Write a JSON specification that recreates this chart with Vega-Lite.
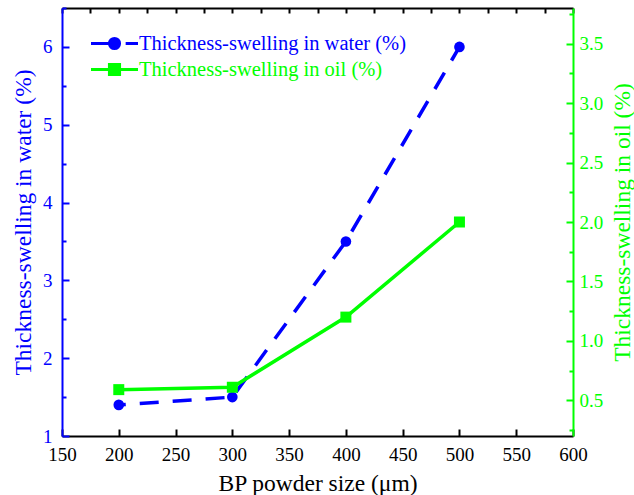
{
  "$schema": "https://vega.github.io/schema/vega-lite/v6.json",
  "width": 511,
  "height": 428,
  "autosize": {"type": "none"},
  "padding": {"left": 62, "top": 8, "right": 61, "bottom": 59},
  "background": "white",
  "data": {
    "values": [
      {"size": 200, "water": 1.4, "oil": 0.59},
      {"size": 300, "water": 1.5, "oil": 0.61},
      {"size": 400, "water": 3.5, "oil": 1.2},
      {"size": 500, "water": 6.0, "oil": 2.0}
    ]
  },
  "layer": [
    {
      "mark": {"type": "line", "strokeWidth": 3.5, "strokeDashOffset": 12, "point": {"filled": true, "size": 113, "shape": "circle"}},
      "encoding": {
        "x": {
          "field": "size", "type": "quantitative",
          "scale": {"domain": [150, 600], "nice": false, "zero": false},
          "axis": {
            "orient": "bottom",
            "values": [150, 200, 250, 300, 350, 400, 450, 500, 550, 600],
            "tickSize": -7, "labelPadding": 16, "labelFlush": false, "labelOverlap": false,
            "domainColor": "black", "tickColor": "black", "labelColor": "black", "titleColor": "black",
            "title": "BP powder size (μm)", "titlePadding": 7
          }
        },
        "y": {
          "field": "water", "type": "quantitative",
          "scale": {"domain": [1, 6.5], "nice": false, "zero": false},
          "axis": {
            "orient": "left",
            "values": [1, 1.5, 2, 2.5, 3, 3.5, 4, 4.5, 5, 5.5, 6, 6.5],
            "labelExpr": "datum.value % 1 === 0 ? format(datum.value, 'd') : ''",
            "tickSize": {"condition": {"test": "datum.value % 1 !== 0", "value": -4}, "value": -7},
            "labelPadding": 17, "labelFlush": false, "labelOverlap": false,
            "domainColor": "#0000ff", "tickColor": "#0000ff", "labelColor": "#0000ff", "titleColor": "#0000ff",
            "title": "Thickness-swelling in water (%)", "titlePadding": 7
          }
        },
        "color": {
          "datum": "Thickness-swelling in water (%)", "type": "nominal",
          "scale": {"range": ["#0000ff"]},
          "legend": {
            "title": null, "orient": "none", "legendX": 39, "legendY": 22, "padding": 0,
            "symbolType": "M-2,0H-0.45M0.95,0H2M-0.43,0A0.43,0.43,0,1,1,0.43,0A0.43,0.43,0,1,1,-0.43,0Z",
            "symbolSize": 552, "symbolStrokeWidth": 3,
            "symbolFillColor": "#0000ff", "symbolStrokeColor": "#0000ff",
            "labelColor": "#0000ff", "labelFontSize": 20.5, "labelFont": "Liberation Serif",
            "labelOffset": 11, "labelLimit": 400
          }
        },
        "strokeDash": {"datum": "dash", "type": "nominal", "scale": {"range": [[19, 14]]}, "legend": null}
      }
    },
    {
      "mark": {"type": "line", "strokeWidth": 3.5, "point": {"filled": true, "size": 121, "shape": "square"}},
      "encoding": {
        "x": {
          "field": "size", "type": "quantitative",
          "scale": {"domain": [150, 600], "nice": false, "zero": false},
          "axis": {
            "orient": "top",
            "values": [150, 175, 200, 225, 250, 275, 300, 325, 350, 375, 400, 425, 450, 475, 500, 525, 550, 575, 600],
            "labels": false, "tickSize": -5, "title": null,
            "domainColor": "black", "tickColor": "black"
          }
        },
        "y": {
          "field": "oil", "type": "quantitative",
          "scale": {"domain": [0.2, 3.8], "nice": false, "zero": false},
          "axis": {
            "orient": "right",
            "values": [0.25, 0.5, 0.75, 1, 1.25, 1.5, 1.75, 2, 2.25, 2.5, 2.75, 3, 3.25, 3.5, 3.75],
            "labelExpr": "datum.value % 0.5 === 0 ? format(datum.value, '.1f') : ''",
            "tickSize": {"condition": {"test": "datum.value % 0.5 !== 0", "value": -4}, "value": -7},
            "labelPadding": 13, "labelFlush": false, "labelOverlap": false,
            "domainColor": "#00ff00", "tickColor": "#00ff00", "labelColor": "#00ff00", "titleColor": "#00ff00",
            "title": "Thickness-swelling in oil (%)", "titleAngle": 270, "titlePadding": 32
          }
        },
        "color": {
          "datum": "Thickness-swelling in oil (%)", "type": "nominal",
          "scale": {"range": ["#00ff00"]},
          "legend": {
            "title": null, "orient": "none", "legendX": 39, "legendY": 48, "padding": 0,
            "symbolType": "M-2,0H2M-0.43,-0.43H0.43V0.43H-0.43Z",
            "symbolSize": 552, "symbolStrokeWidth": 3,
            "symbolFillColor": "#00ff00", "symbolStrokeColor": "#00ff00",
            "labelColor": "#00ff00", "labelFontSize": 20.5, "labelFont": "Liberation Serif",
            "labelOffset": 11, "labelLimit": 400
          }
        }
      }
    }
  ],
  "resolve": {
    "scale": {"y": "independent", "color": "independent"},
    "axis": {"x": "independent"}
  },
  "config": {
    "view": {"stroke": null},
    "font": "Liberation Serif",
    "axis": {
      "grid": false, "domainWidth": 2, "tickWidth": 2,
      "labelFont": "Liberation Serif", "titleFont": "Liberation Serif",
      "labelFontSize": 19, "titleFontSize": 23.5, "titleFontWeight": "normal"
    }
  }
}
